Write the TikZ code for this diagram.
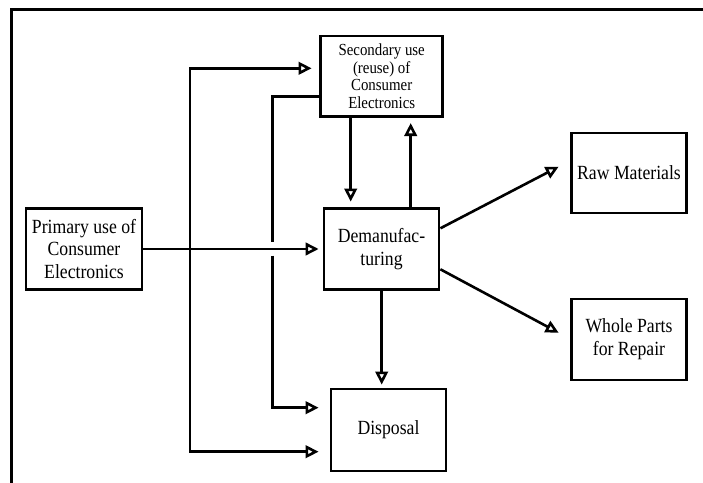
\documentclass[tikz,border=0pt]{standalone}
\usepackage{fontspec}
\setmainfont{Liberation Serif}[FakeStretch=0.88]
\usetikzlibrary{arrows.meta,calc}
\begin{document}
\begin{tikzpicture}[x=1bp,y=-1bp,
  box/.style={draw, line width=2.8bp, inner sep=0pt, align=center,
    font=\fontsize{20.1bp}{22.8bp}\selectfont},
  smallbox/.style={box, font=\fontsize{16.9bp}{17.8bp}\selectfont},
  conn/.style={line width=2.6bp},
  arr/.style={conn, -{Triangle[open, length=13bp, width=12.5bp, line width=2.6bp]}},
  framestyle/.style={line width=3bp}]
\useasboundingbox (0,0) rectangle (703,483);
% frame
\draw[framestyle] (11.3,483) -- (11.3,9.7) -- (703,9.7);
% nodes
\node[box, minimum width=116bp, minimum height=81bp] (prim) at (84,249)
  {Primary use of\\Consumer\\Electronics};
\node[smallbox, minimum width=122bp, minimum height=80.7bp] (sec) at (381.7,76.3)
  {Secondary use\\(reuse) of\\Consumer\\Electronics};
\node[box, minimum width=115bp, minimum height=81bp] (dem) at (381.5,249)
  {Demanufac-\\turing};
\node[box, minimum width=115bp, minimum height=82bp] (disp) at (388.5,430)
  {Disposal};
\node[box, minimum width=114.5bp, minimum height=80bp] (raw) at (629,173)
  {Raw Materials};
\node[box, minimum width=114.5bp, minimum height=81bp] (whole) at (629,339.5)
  {Whole Parts\\for Repair};
% helper coordinates
\coordinate (j1) at (190,249.3);
\coordinate (g1) at (272.7,241.7);
\coordinate (g2) at (272.7,255.7);
% connectors
\draw[arr] (prim.east) -- ([xshift=-4bp]dem.west);
\draw[arr] (j1) |- ([xshift=-7.7bp,yshift=8bp]sec.west);
\draw[arr] (j1) |- ([xshift=-11bp,yshift=-21.7bp]disp.west);
\draw[conn] ([yshift=-20.4bp]sec.west) -| (g1);
\draw[arr] (g2) |- ([xshift=-11bp,yshift=22.3bp]disp.west);
\draw[arr] ([xshift=-31bp]sec.south) -- ([xshift=-30.8bp,yshift=5.5bp]dem.north);
\draw[arr] ([xshift=29.2bp]dem.north) -- ([xshift=29bp,yshift=-5bp]sec.south);
\draw[arr] ([xshift=0.2bp]dem.south) -- ($(dem.south |- disp.north)+(0.2bp,3bp)$);
\draw[arr] ([yshift=20.7bp]dem.east) -- ([xshift=-11.7bp,yshift=6.3bp]raw.west);
\draw[arr] ([yshift=-20.3bp]dem.east) -- ([xshift=-11.7bp,yshift=6.8bp]whole.west);
\end{tikzpicture}
\end{document}
